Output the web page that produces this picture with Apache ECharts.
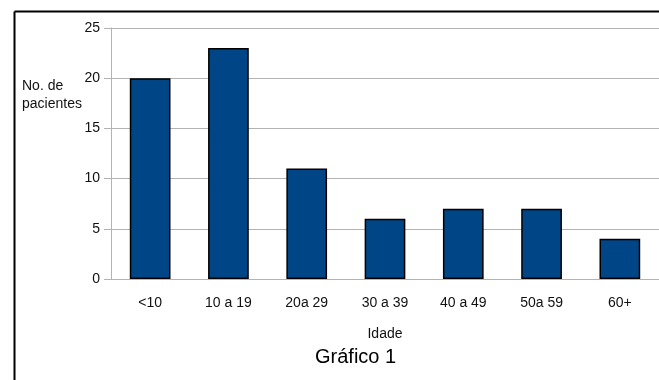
<!DOCTYPE html>
<html>
<head>
<meta charset="utf-8">
<script src="https://cdn.jsdelivr.net/npm/echarts@6/dist/echarts.min.js"></script>
<style>
  html, body { margin: 0; padding: 0; background: #fff; }
  #chart { width: 659px; height: 380px; }
</style>
</head>
<body>
<div id="chart"></div>
<script>
  // faixas etarias e numero de pacientes
  var faixas = ['<10', '10 a 19', '20a 29', '30 a 39', '40 a 49', '50a 59', '60+']
  var pacientes = [20, 23, 11, 6, 7, 7, 4]
  var yMin = 0
  var yMax = 25
  var yStep = 5

  var chart = echarts.init(document.getElementById('chart'))
  var fonte = '"Liberation Sans", Arial, sans-serif'
  chart.setOption({
    animation: false,
    title: [{
      text: 'Gráfico 1',
      left: 310,
      top: 342,
      textStyle: { fontFamily: fonte, fontSize: 20, fontWeight: 'normal', color: '#000' }
    }, {
      text: 'No. de\npacientes',
      left: 17,
      top: 72,
      textStyle: { fontFamily: fonte, fontSize: 14, fontWeight: 'normal', color: '#111', lineHeight: 18 }
    }],
    graphic: [{
      type: 'line',
      shape: { x1: 14.5, y1: 11.5, x2: 14.5, y2: 380 },
      style: { stroke: '#000', lineWidth: 2 }
    }, {
      type: 'line',
      shape: { x1: 14.5, y1: 11.5, x2: 659, y2: 11.5 },
      style: { stroke: '#000', lineWidth: 2 }
    }],
    grid: {
      left: 111,
      top: 28,
      width: 551,
      height: 251
    },
    xAxis: {
      type: 'category',
      data: faixas,
      name: 'Idade',
      nameLocation: 'middle',
      nameGap: 48,
      nameTextStyle: { fontFamily: fonte, fontSize: 14, color: '#111' },
      axisLine: { lineStyle: { color: '#b3b3b3' } },
      axisTick: { length: 7, lineStyle: { color: '#b3b3b3' } },
      axisLabel: { fontFamily: fonte, fontSize: 14, color: '#111', margin: 17 }
    },
    yAxis: {
      type: 'value',
      min: yMin,
      max: yMax,
      interval: yStep,
      axisLine: { show: true, lineStyle: { color: '#b3b3b3' } },
      axisTick: { show: true, length: 7, lineStyle: { color: '#b3b3b3' } },
      axisLabel: { fontFamily: fonte, fontSize: 14, color: '#111', margin: 11 },
      splitLine: { lineStyle: { color: '#b3b3b3' } }
    },
    series: [{
      type: 'bar',
      data: pacientes,
      barWidth: '52%',
      itemStyle: { color: '#004586', borderColor: '#000', borderWidth: 1.5 }
    }]
  })
</script>
</body>
</html>
